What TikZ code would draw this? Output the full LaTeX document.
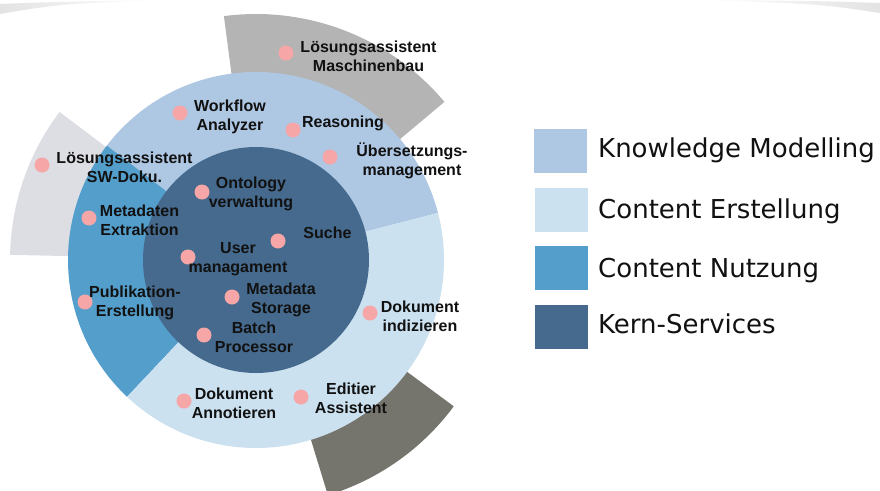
\documentclass[tikz,border=0pt]{standalone}
\usepackage{fontspec}
\setmainfont{Liberation Sans}
\newfontfamily\legfont{DejaVu Sans}
\usetikzlibrary{calc}
\definecolor{km}{RGB}{174,199,227}
\definecolor{ce}{RGB}{204,225,240}
\definecolor{cn}{RGB}{84,158,203}
\definecolor{ks}{RGB}{69,106,141}
\definecolor{gtop}{RGB}{180,180,180}
\definecolor{gleft}{RGB}{221,221,228}
\definecolor{gbot}{RGB}{117,117,110}
\definecolor{dotcol}{RGB}{246,166,166}
\definecolor{ink}{RGB}{17,17,17}
\tikzset{
 lab/.style={font=\bfseries\fontsize{16}{19}\selectfont, text=ink, align=center, inner sep=0},
 pinkdot/.style={circle, fill=dotcol, minimum size=15, inner sep=0},
 legbox/.style={fill=#1, minimum width=53, minimum height=44, inner sep=0},
 legtxt/.style={font=\legfont\fontsize{26}{30}\selectfont, text=ink, anchor=base west, inner sep=0},
}
\begin{document}
\begin{tikzpicture}[x=1pt,y=1pt]
\useasboundingbox (0,0) rectangle (880,-490);
\clip (0,0) rectangle (880,-490);
% faint background swoosh at the top corners
\shade[left color=black!11, right color=white] (0,-4) .. controls (50,-2) .. (160,0) .. controls (60,-4) .. (0,-14) -- cycle;
\shade[left color=white, right color=black!11] (700,0) .. controls (820,-1) .. (880,-3) -- (880,-13) .. controls (820,-4) .. (700,0) -- cycle;
\coordinate (C) at (256,-260);
% outer gray sectors
\fill[gtop] (C) -- ++(40:246) arc[start angle=40, end angle=97.5, radius=246] -- cycle;
\fill[gleft] (C) -- ++(143:246) arc[start angle=143, end angle=178.8, radius=246] -- cycle;
\fill[gbot] (C) -- ++(-73:246) arc[start angle=-73, end angle=-36.5, radius=246] -- cycle;
% ring segments
\fill[km] (C) -- ++(14.5:188) arc[start angle=14.5, end angle=142.5, radius=188] -- cycle;
\fill[cn] (C) -- ++(142.5:188) arc[start angle=142.5, end angle=226.7, radius=188] -- cycle;
\fill[ce] (C) -- ++(226.7:188) arc[start angle=226.7, end angle=374.5, radius=188] -- cycle;
\fill[ks] (C) circle[radius=113];
% dots
\node[pinkdot] (d1) at (286,-53) {};
\node[pinkdot] (d2) at (180,-113) {};
\node[pinkdot] (d3) at (293,-130) {};
\node[pinkdot] (d4) at (330,-157) {};
\node[pinkdot] (d5) at (42,-165) {};
\node[pinkdot] (d6) at (202,-192) {};
\node[pinkdot] (d7) at (89,-218) {};
\node[pinkdot] (d8) at (278,-241) {};
\node[pinkdot] (d9) at (188,-257) {};
\node[pinkdot] (d10) at (232,-297) {};
\node[pinkdot] (d11) at (204,-335) {};
\node[pinkdot] (d12) at (85,-302) {};
\node[pinkdot] (d13) at (370,-313) {};
\node[pinkdot] (d14) at (184,-401) {};
\node[pinkdot] (d15) at (301,-397) {};
% labels
\node[lab] (t1) at (368.5,-56) {Lösungsassistent\\Maschinenbau};
\node[lab] (t2) at (230,-116.5) {Workflow\\Analyzer};
\node[lab] (t3) at (343,-123) {Reasoning};
\node[lab] (t4) at (412,-161) {Übersetzungs-\\management};
\node[lab] (t5) at (124.5,-167) {Lösungsassistent\\SW-Doku.};
\node[lab] (t6) at (251,-193.5) {Ontology\\verwaltung};
\node[lab] (t7) at (139.5,-220.5) {Metadaten\\Extraktion};
\node[lab] (t8) at (327.5,-233) {Suche};
\node[lab] (t9) at (238,-259) {User\\managament};
\node[lab] (t10) at (281,-299.5) {Metadata\\Storage};
\node[lab] (t11) at (254,-337.5) {Batch\\Processor};
\node[lab] (t12) at (135,-303) {Publikation-\\Erstellung};
\node[lab] (t13) at (420,-316.5) {Dokument\\indizieren};
\node[lab] (t14) at (234,-403) {Dokument\\Annotieren};
\node[lab] (t15) at (351,-398.5) {Editier\\Assistent};
% legend
\node[legbox=km] (l1) at (560.5,-151) {};
\node[legbox=ce] (l2) at (561.5,-210) {};
\node[legbox=cn] (l3) at (561.5,-268) {};
\node[legbox=ks] (l4) at (561.5,-326.5) {};
\node[legtxt] (lt1) at (598,-157) {Knowledge Modelling};
\node[legtxt] (lt2) at (598,-218) {Content Erstellung};
\node[legtxt] (lt3) at (598,-277) {Content Nutzung};
\node[legtxt] (lt4) at (598,-333) {Kern-Services};
\end{tikzpicture}
\end{document}
